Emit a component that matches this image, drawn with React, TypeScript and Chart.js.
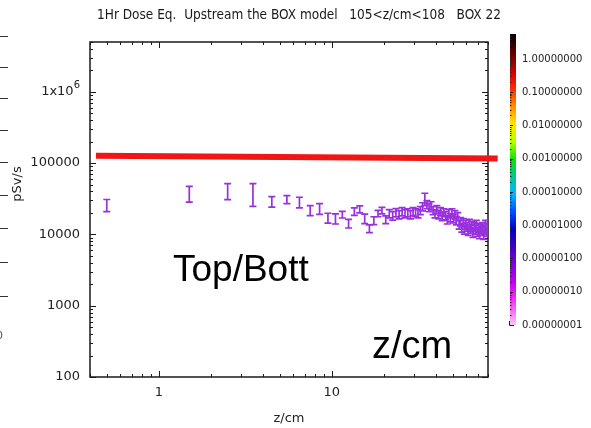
import { useEffect, useRef } from "react";
import { Chart, registerables } from "chart.js";

Chart.register(...registerables);

const TITLE = "1Hr Dose Eq.  Upstream the BOX model   105<z/cm<108   BOX 22";
const X_TITLE = "z/cm";
const Y_TITLE = "pSv/s";

// bin centres along z (cm)
const zPositions = [
  0.5, 1.5, 2.5, 3.5, 4.5, 5.5, 6.5, 7.5, 8.5, 9.5,
  10.5, 11.5, 12.5, 13.5, 14.5, 15.5, 16.5, 17.5, 18.5, 19.5,
  20.5, 21.5, 22.5, 23.5, 24.5, 25.5, 26.5, 27.5, 28.5, 29.5,
  30.5, 31.5, 32.5, 33.5, 34.5, 35.5, 36.5, 37.5, 38.5, 39.5,
  40.5, 41.5, 42.5, 43.5, 44.5, 45.5, 46.5, 47.5, 48.5, 49.5,
  50.5, 51.5, 52.5, 53.5, 54.5, 55.5, 56.5, 57.5, 58.5, 59.5,
  60.5, 61.5, 62.5, 63.5, 64.5, 65.5, 66.5, 67.5, 68.5, 69.5,
  70.5, 71.5, 72.5, 73.5, 74.5, 75.5, 76.5, 77.5, 78.5, 79.5,
];

// dose equivalent rate (pSv/s)
const doseValues = [
  25900, 37800, 41200, 38200, 29000, 31100, 28400, 21900, 23100, 17100,
  16700, 19000, 14300, 21000, 22600, 16700, 12100, 15700, 19700, 21700,
  16200, 19700, 18400, 20300, 19000, 21000, 19700, 20300, 19000, 21000,
  20300, 19700, 21700, 24600, 31600, 26300, 23900, 25400, 21700, 19700,
  22400, 19000, 21000, 17900, 20300, 18400, 16200, 19700, 17300, 20300,
  16700, 19000, 15700, 17900, 13800, 15200, 12500, 14700, 11800, 13800,
  12900, 11400, 14300, 12100, 13400, 10700, 12900, 11800, 13800, 11000,
  12500, 10300, 12100, 11400, 12900, 10000, 11800, 13800, 11000, 12500,
];

// statistical uncertainty (pSv/s)
const doseErrors = [
  5000, 9500, 10400, 13400, 4900, 4000, 4800, 3500, 4000, 2700,
  2700, 2000, 2000, 2500, 2600, 2500, 1500, 2000, 2000, 2300,
  2000, 2600, 2500, 2700, 2500, 2800, 2600, 2600, 2500, 2700,
  2600, 2600, 2800, 3200, 6200, 3400, 3100, 3300, 2800, 2600,
  2900, 2500, 2700, 2300, 2600, 2400, 2200, 2600, 2300, 2600,
  2200, 2500, 2100, 2300, 1900, 2000, 1700, 2000, 1700, 1900,
  1800, 1700, 2000, 1700, 1800, 1600, 1800, 1700, 1900, 1600,
  1800, 1600, 1700, 1700, 1800, 1500, 1700, 1900, 1600, 1800,
];

// reference limit line drawn across the plot
const limitZ = [0.433, 91];
const limitDose = [127000, 116000];

const X_MIN = 0.4;
const X_MAX = 80;
const Y_MIN = 100;
const Y_MAX = 5e6;

const xTickValues = [1, 10];
const xTickLabels = ["1", "10"];
const yTickValues = [100, 1000, 10000, 100000, 1000000];
const yTickLabels = ["100", "1000", "10000", "100000", "1x10^6"];

// colour-bar scale (log10 of the value)
const colorbarExponents = [0, -1, -2, -3, -4, -5, -6, -7, -8];
const colorbarLabels = [
  "1.00000000", "0.10000000", "0.01000000", "0.00100000", "0.00010000",
  "0.00001000", "0.00000100", "0.00000010", "0.00000001",
];
const colorbarTopExp = 0.75;
const colorbarBottomExp = -8;
const colorbarStops: [number, string][] = [
  [0.0, "#000000"],
  [0.04, "#3a0000"],
  [0.09, "#8a0000"],
  [0.14, "#e00000"],
  [0.19, "#ff3000"],
  [0.25, "#ff9000"],
  [0.31, "#ffe800"],
  [0.37, "#b8ff00"],
  [0.43, "#10e000"],
  [0.49, "#00c890"],
  [0.55, "#00b8ff"],
  [0.61, "#0050ff"],
  [0.67, "#0000c8"],
  [0.73, "#4000c0"],
  [0.79, "#8000e8"],
  [0.85, "#c000f0"],
  [0.9, "#f020f0"],
  [0.95, "#f070f0"],
  [1.0, "#f8c8f8"],
];

const ERR_COLOR = "rgb(152, 48, 222)";
const AXIS_FONT = "13px 'DejaVu Sans', sans-serif";

function logMinorTicks(min: number, max: number): { v: number; major: boolean }[] {
  const out: { v: number; major: boolean }[] = [];
  const e0 = Math.floor(Math.log10(min));
  const e1 = Math.ceil(Math.log10(max));
  for (let e = e0; e <= e1; e++) {
    for (let m = 1; m <= 9; m++) {
      const v = m * Math.pow(10, e);
      if (v >= min * 0.9999 && v <= max * 1.0001) out.push({ v, major: m === 1 });
    }
  }
  return out;
}

const framePlugin = {
  id: "gnuplotFrame",
  beforeDatasetsDraw(chart: any) {
    const { ctx, chartArea: a, scales } = chart;
    const xs = scales.x;
    const ys = scales.y;
    ctx.save();
    ctx.strokeStyle = "#1a1a1a";
    ctx.lineWidth = 1.5;
    ctx.strokeRect(a.left, a.top, a.right - a.left, a.bottom - a.top);
    ctx.lineWidth = 1;
    for (const t of logMinorTicks(X_MIN, X_MAX)) {
      const px = Math.round(xs.getPixelForValue(t.v)) + 0.5;
      const len = t.major ? 6 : 3;
      ctx.beginPath();
      ctx.moveTo(px, a.bottom);
      ctx.lineTo(px, a.bottom - len);
      ctx.moveTo(px, a.top);
      ctx.lineTo(px, a.top + len);
      ctx.stroke();
    }
    for (const t of logMinorTicks(Y_MIN, Y_MAX)) {
      const py = Math.round(ys.getPixelForValue(t.v)) + 0.5;
      const len = t.major ? 6 : 3;
      ctx.beginPath();
      ctx.moveTo(a.left, py);
      ctx.lineTo(a.left + len, py);
      ctx.moveTo(a.right, py);
      ctx.lineTo(a.right - len, py);
      ctx.stroke();
    }
    ctx.restore();
  },
  afterDatasetsDraw(chart: any) {
    const { ctx, chartArea: a, scales } = chart;
    const xs = scales.x;
    const ys = scales.y;
    ctx.save();
    ctx.beginPath();
    ctx.rect(a.left, a.top, a.right - a.left, a.bottom - a.top);
    ctx.clip();
    ctx.strokeStyle = ERR_COLOR;
    ctx.lineWidth = 1.7;
    const cap = 3.5;
    zPositions.forEach((z, i) => {
      const px = xs.getPixelForValue(z);
      const yTop = ys.getPixelForValue(doseValues[i] + doseErrors[i]);
      const yBot = ys.getPixelForValue(doseValues[i] - doseErrors[i]);
      ctx.beginPath();
      ctx.moveTo(px, yTop);
      ctx.lineTo(px, yBot);
      ctx.moveTo(px - cap, yTop);
      ctx.lineTo(px + cap, yTop);
      ctx.moveTo(px - cap, yBot);
      ctx.lineTo(px + cap, yBot);
      ctx.stroke();
    });
    ctx.restore();
  },
  afterDraw(chart: any) {
    const { ctx, chartArea: a, scales } = chart;
    const xs = scales.x;
    const ys = scales.y;
    ctx.save();

    // title
    ctx.fillStyle = "#1a1a1a";
    ctx.font = "13.5px 'DejaVu Sans Condensed', 'DejaVu Sans', sans-serif";
    ctx.textAlign = "center";
    ctx.textBaseline = "middle";
    ctx.fillText(TITLE, 299, 15);

    // y tick labels
    ctx.font = AXIS_FONT;
    ctx.fillStyle = "#222";
    ctx.textAlign = "right";
    yTickValues.forEach((v, i) => {
      const py = ys.getPixelForValue(v);
      const label = yTickLabels[i];
      const sup = label.indexOf("^");
      if (sup >= 0) {
        const base = label.slice(0, sup);
        const exp = label.slice(sup + 1);
        ctx.font = "10px 'DejaVu Sans', sans-serif";
        const ew = ctx.measureText(exp).width;
        ctx.fillText(exp, a.left - 10, py - 6);
        ctx.font = AXIS_FONT;
        ctx.fillText(base, a.left - 10 - ew, py);
      } else {
        ctx.fillText(label, a.left - 10, py);
      }
    });

    // x tick labels
    ctx.textAlign = "center";
    xTickValues.forEach((v, i) => {
      ctx.fillText(xTickLabels[i], xs.getPixelForValue(v), a.bottom + 16);
    });

    // axis titles
    ctx.fillText(X_TITLE, (a.left + a.right) / 2, a.bottom + 42);
    ctx.save();
    ctx.translate(18, 184);
    ctx.rotate(-Math.PI / 2);
    ctx.fillText(Y_TITLE, 0, 0);
    ctx.restore();

    // colour bar
    const cbX = 510;
    const cbW = 6;
    const cbTop = 34;
    const cbBot = 325;
    const grad = ctx.createLinearGradient(0, cbTop, 0, cbBot);
    colorbarStops.forEach(([f, c]) => grad.addColorStop(f, c));
    ctx.fillStyle = grad;
    ctx.fillRect(cbX, cbTop, cbW, cbBot - cbTop);
    const expToY = (e: number) =>
      cbTop + ((colorbarTopExp - e) / (colorbarTopExp - colorbarBottomExp)) * (cbBot - cbTop);
    ctx.strokeStyle = "#222";
    ctx.lineWidth = 1;
    for (let e = colorbarBottomExp; e <= 0; e++) {
      for (let m = 1; m <= 9; m++) {
        const le = e + Math.log10(m);
        if (le > colorbarTopExp) continue;
        const py = Math.round(expToY(le)) + 0.5;
        ctx.beginPath();
        ctx.moveTo(cbX, py);
        ctx.lineTo(cbX + (m === 1 ? 3 : 1.5), py);
        ctx.stroke();
      }
    }
    ctx.beginPath();
    ctx.moveTo(cbX - 0.5, cbBot - 4);
    ctx.lineTo(cbX - 0.5, cbBot + 0.5);
    ctx.lineTo(cbX + 4, cbBot + 0.5);
    ctx.stroke();
    ctx.fillStyle = "#222";
    ctx.font = "10px 'DejaVu Sans', sans-serif";
    ctx.textAlign = "left";
    colorbarExponents.forEach((e, i) => {
      ctx.fillText(colorbarLabels[i], 522, expToY(e));
    });

    // neighbouring panel edge on the left
    ctx.strokeStyle = "#333";
    [36, 67, 98, 130, 162, 195, 228, 262, 296].forEach((py) => {
      ctx.beginPath();
      ctx.moveTo(0, py + 0.5);
      ctx.lineTo(8, py + 0.5);
      ctx.stroke();
    });
    ctx.fillStyle = "#555";
    ctx.font = "11px 'DejaVu Sans', sans-serif";
    ctx.fillText("0", -4, 336);

    // annotations
    ctx.fillStyle = "#000";
    ctx.font = "37px 'Liberation Sans', Arial, sans-serif";
    ctx.textBaseline = "alphabetic";
    ctx.fillText("Top/Bott", 173, 281);
    ctx.font = "38px 'Liberation Sans', Arial, sans-serif";
    ctx.fillText("z/cm", 372, 358);

    ctx.restore();
  },
};

export default function App() {
  const canvasRef = useRef<HTMLCanvasElement | null>(null);

  useEffect(() => {
    const canvas = canvasRef.current;
    if (!canvas) return;
    const chart = new Chart(canvas, {
      type: "scatter",
      data: {
        datasets: [
          {
            type: "line",
            data: limitZ.map((z, i) => ({ x: z, y: limitDose[i] })),
            borderColor: "rgb(240, 22, 22)",
            borderWidth: 6,
            pointRadius: 0,
            clip: false as any,
            borderCapStyle: "butt",
          },
          {
            data: zPositions.map((z, i) => ({ x: z, y: doseValues[i] })),
            pointRadius: 0,
            showLine: false,
          },
        ],
      },
      options: {
        responsive: false,
        animation: false,
        devicePixelRatio: 1,
        layout: { padding: { left: 90, right: 103, top: 42, bottom: 51 } },
        plugins: {
          legend: { display: false },
          tooltip: { enabled: false },
        },
        scales: {
          x: { type: "logarithmic", min: X_MIN, max: X_MAX, display: false },
          y: { type: "logarithmic", min: Y_MIN, max: Y_MAX, display: false },
        },
      },
      plugins: [framePlugin],
    });
    return () => chart.destroy();
  }, []);

  return (
    <div style={{ position: "absolute", left: 0, top: 0, width: 591, height: 428, background: "#fff" }}>
      <canvas ref={canvasRef} width={591} height={428} />
    </div>
  );
}
